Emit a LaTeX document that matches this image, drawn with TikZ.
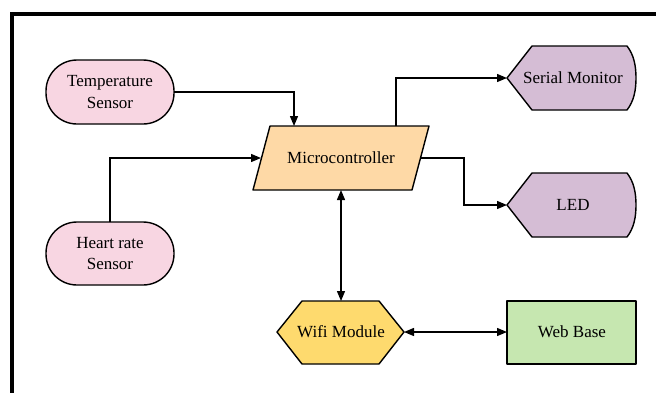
\documentclass[tikz,border=0pt]{standalone}
\usepackage{fontspec}
\setmainfont{Liberation Serif}
\usetikzlibrary{arrows.meta}
\definecolor{pinkf}{HTML}{F8D6E2}
\definecolor{purplef}{HTML}{D5BDD5}
\definecolor{orangef}{HTML}{FED9A6}
\definecolor{yellowf}{HTML}{FEDA6E}
\definecolor{greenf}{HTML}{C6E7B0}
\tikzset{
  shp/.style={draw=black, line width=1.4pt, line join=round},
  lbl/.style={font=\fontsize{17}{21.5}\selectfont, align=center, inner sep=0pt},
  conn/.style={line width=1.3pt, -{Triangle[length=10pt,width=8pt]}},
  dconn/.style={line width=1.3pt, {Triangle[length=10pt,width=8pt]}-{Triangle[length=10pt,width=8pt]}},
}
\begin{document}
\begin{tikzpicture}[x=1pt,y=-1pt]
\useasboundingbox (0,0) rectangle (656,392);
\fill[white] (0,0) rectangle (656,392);
% frame
\draw[line width=4pt] (12,400) -- (12,14) -- (670,14);

% Temperature Sensor
\draw[shp, fill=pinkf, rounded corners=31pt] (46,60) rectangle (174,124);
\node[lbl] (temp) at (110,92) {Temperature\\Sensor};
% Heart rate Sensor
\draw[shp, fill=pinkf, rounded corners=31pt] (46,222) rectangle (174,285);
\node[lbl] (heart) at (110,253.5) {Heart rate\\Sensor};
% Microcontroller
\draw[shp, fill=orangef] (270,126) -- (429,126) -- (412,190) -- (253,190) -- cycle;
\node[lbl] (mcu) at (341,158) {Microcontroller};
% Serial Monitor
\draw[shp, fill=purplef] (507,78) -- (532,46) -- (627,46) .. controls (634,55) and (636,66) .. (636,78) .. controls (636,90) and (634,101) .. (627,110) -- (532,110) -- cycle;
\node[lbl] (serial) at (573,78) {Serial Monitor};
% LED
\draw[shp, fill=purplef] (507,205) -- (532,173) -- (627,173) .. controls (634,182) and (636,193) .. (636,205) .. controls (636,217) and (634,228) .. (627,237) -- (532,237) -- cycle;
\node[lbl] (led) at (573,205) {LED};
% Wifi Module
\draw[shp, fill=yellowf] (277,332) -- (302,301) -- (379,301) -- (404,332) -- (379,364) -- (302,364) -- cycle;
\node[lbl] (wifi) at (341,332) {Wifi Module};
% Web Base
\draw[shp, fill=greenf] (507,301) rectangle (636,364);
\node[lbl] (web) at (572,332) {Web Base};

% connection points
\coordinate (tempE) at (174,92);
\coordinate (mcuT1) at (294,126);
\coordinate (heartN) at (110,222);
\coordinate (mcuW) at (261,158);
\coordinate (mcuT2) at (396,126);
\coordinate (serialW) at (507,78);
\coordinate (mcuE) at (421,158);
\coordinate (ledW) at (507,205);
\coordinate (mcuS) at (341,190);
\coordinate (wifiN) at (341,301);
\coordinate (wifiE) at (404,332);
\coordinate (webW) at (507,332);

\draw[conn] (tempE) -| (mcuT1);
\draw[conn] (heartN) |- (mcuW);
\draw[conn] (mcuT2) |- (serialW);
\draw[conn] (mcuE) -- (464,158) |- (ledW);
\draw[dconn] (mcuS) -- (wifiN);
\draw[dconn] (wifiE) -- (webW);
\end{tikzpicture}
\end{document}
